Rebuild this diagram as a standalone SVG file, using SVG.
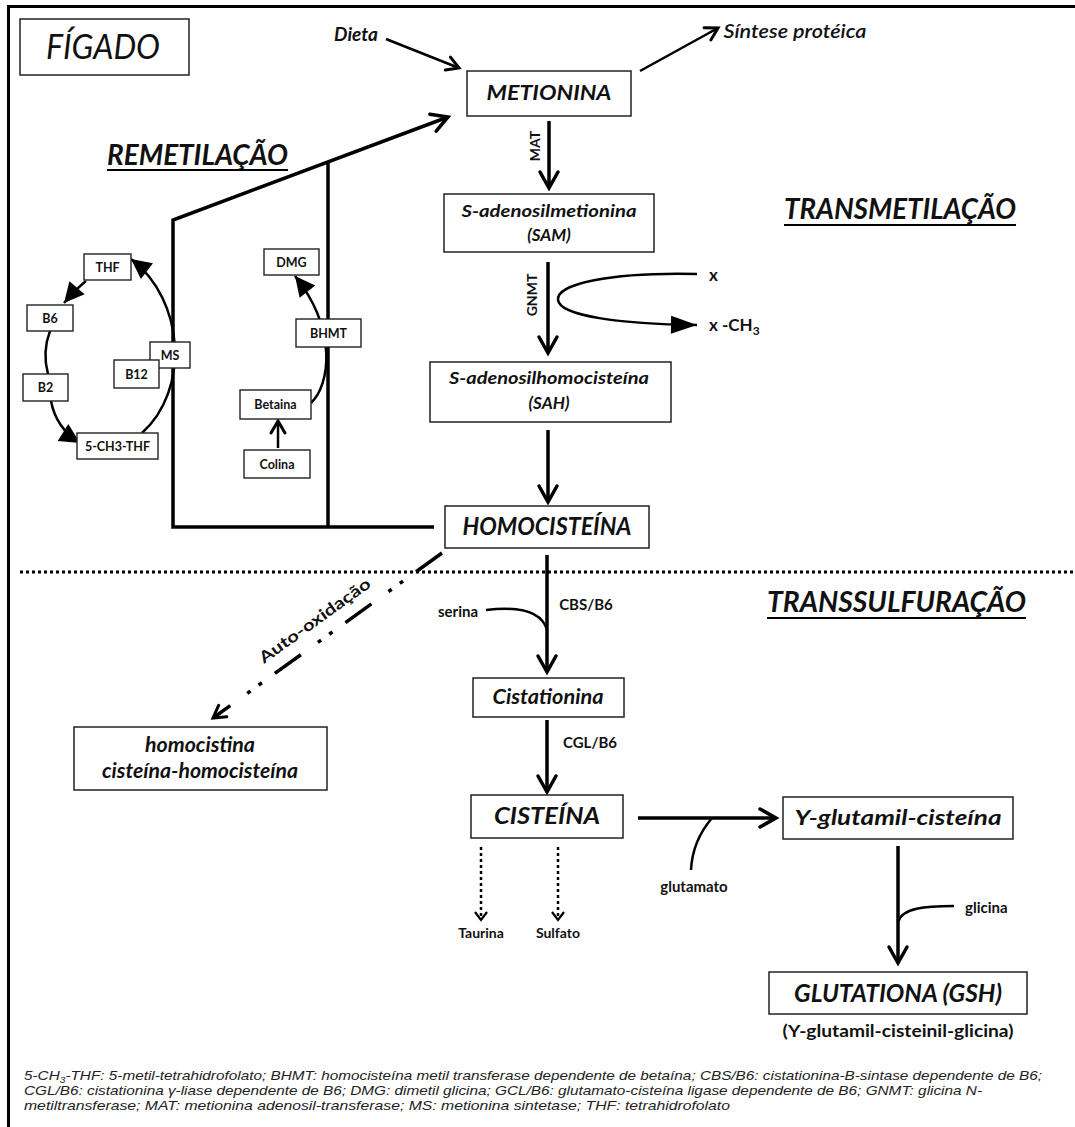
<svg xmlns="http://www.w3.org/2000/svg" width="1075" height="1127" viewBox="0 0 1075 1127">
<style>
text{font-family:Lato,"Liberation Sans",sans-serif;fill:#111}
.bi{font-weight:bold;font-style:italic}
.b{font-weight:bold}
.i{font-style:italic}
.c{text-anchor:middle}
.box{fill:#fff;stroke:#222;stroke-width:1.5}
.sbox{fill:#fff;stroke:#222;stroke-width:1.4}
.sl{font-size:12.5px;font-weight:bold;text-anchor:middle}
.ln{fill:none;stroke:#000;stroke-width:3.5}
.thin{fill:none;stroke:#000;stroke-width:2.5}
.dot{fill:none;stroke:#000;stroke-width:2.5;stroke-dasharray:3 3}
.foot{font-family:"Liberation Sans",Arial,sans-serif;font-style:italic;font-size:13.5px;fill:#222}
</style>
<defs>
<marker id="chev" markerUnits="userSpaceOnUse" viewBox="-20 -12 24 24" refX="0" refY="0" markerWidth="24" markerHeight="24" orient="auto" overflow="visible"><path d="M-16,-9 L0,0 L-16,9" fill="none" stroke="#000" stroke-width="3.5" stroke-linecap="round"/></marker>
<marker id="chevS" markerUnits="userSpaceOnUse" viewBox="-16 -10 20 20" refX="0" refY="0" markerWidth="20" markerHeight="20" orient="auto" overflow="visible"><path d="M-12,-7 L0,0 L-12,7" fill="none" stroke="#000" stroke-width="3" stroke-linecap="round"/></marker>
<marker id="chevD" markerUnits="userSpaceOnUse" viewBox="-12 -8 16 16" refX="0" refY="0" markerWidth="16" markerHeight="16" orient="auto" overflow="visible"><path d="M-8,-6 L0,0 L-8,6" fill="none" stroke="#000" stroke-width="2.2"/></marker>
<marker id="tri" markerUnits="userSpaceOnUse" viewBox="-28 -12 30 24" refX="0" refY="0" markerWidth="30" markerHeight="24" orient="auto" overflow="visible"><path d="M-26,-9 L0,0 L-26,9Z" fill="#000"/></marker>
<marker id="triS" markerUnits="userSpaceOnUse" viewBox="-22 -12 24 24" refX="0" refY="0" markerWidth="24" markerHeight="24" orient="auto" overflow="visible"><path d="M-20,-10 L0,0 L-20,10Z" fill="#000"/></marker>
</defs>
<rect width="1075" height="1127" fill="#fff"/>
<path d="M8.5,1127 V6.5 H1075" fill="none" stroke="#000" stroke-width="3"/>

<g id="connectors">
<path class="thin" d="M386,39 L459,68" marker-end="url(#chevS)"/>
<path class="thin" d="M640,71 L718,28" marker-end="url(#chevS)"/>
<path class="ln" d="M549,121 V188" marker-end="url(#chev)"/>
<path class="ln" d="M548,262 V353" marker-end="url(#chev)"/>
<path class="thin" d="M697,274 C610,272 556,284 558,300 C560,316 620,324 697,325" marker-end="url(#tri)"/>
<path class="ln" d="M548,430 V502" marker-end="url(#chev)"/>
<path class="ln" d="M434,527 H173 V220 L448,117" stroke-width="4" stroke-linejoin="miter" marker-end="url(#chev)"/>
<path class="ln" d="M328,527 V163" stroke-width="4"/>
<path d="M20,572 H1075" fill="none" stroke="#000" stroke-width="3" stroke-dasharray="3 3"/>
<path d="M442,553 L213,718" fill="none" stroke="#000" stroke-width="3.5" stroke-dasharray="32 16 4 10 4 21" marker-end="url(#chevS)"/>
<path class="ln" d="M547,555 V672" marker-end="url(#chev)"/>
<path class="thin" d="M486,610 C520,606 542,612 547,630"/>
<path class="ln" d="M547,720 V792" marker-end="url(#chev)"/>
<path class="ln" d="M638,818 H776" stroke-width="4" marker-end="url(#chev)"/>
<path class="thin" d="M712,818 C700,832 692,850 691,870"/>
<path class="ln" d="M898,846 V963" marker-end="url(#chev)"/>
<path class="thin" d="M898,922 C902,908 925,906 954,906"/>
<path class="dot" d="M481,847 V920" marker-end="url(#chevD)"/>
<path class="dot" d="M558,847 V920" marker-end="url(#chevD)"/>
<path class="thin" d="M142,433 C190,390 185,300 131,259" stroke-width="3" marker-end="url(#triS)"/>
<path class="thin" d="M86,281 Q76,289 64,303" stroke-width="3" marker-end="url(#triS)"/>
<path class="thin" d="M50,331 Q42,352 48,374" stroke-width="3"/>
<path class="thin" d="M51,401 Q56,428 80,443" stroke-width="3" marker-end="url(#triS)"/>
<path class="thin" d="M311,403 C330,385 338,330 295,276" stroke-width="3" marker-end="url(#triS)"/>
<path class="thin" d="M278,448 V421" stroke-width="3" marker-end="url(#chevS)"/>
</g>

<g id="labels">
<text x="356" y="41" class="bi c" font-size="19">Dieta</text>
<text x="795" y="38" class="i c" font-size="19" font-weight="600" textLength="143" lengthAdjust="spacingAndGlyphs">Síntese protéica</text>
<text x="107" y="165" class="bi" font-size="28" textLength="181" lengthAdjust="spacingAndGlyphs">REMETILAÇÃO</text>
<line x1="107" y1="170" x2="288" y2="170" stroke="#000" stroke-width="2"/>
<text x="784" y="219" class="bi" font-size="28" textLength="232" lengthAdjust="spacingAndGlyphs">TRANSMETILAÇÃO</text>
<line x1="784" y1="225" x2="1016" y2="225" stroke="#000" stroke-width="2"/>
<text x="767" y="612" class="bi" font-size="28" textLength="259" lengthAdjust="spacingAndGlyphs">TRANSSULFURAÇÃO</text>
<line x1="767" y1="618" x2="1026" y2="618" stroke="#000" stroke-width="2"/>
<text transform="translate(540,146) rotate(-90)" class="b c" font-size="14">MAT</text>
<text transform="translate(537,295) rotate(-90)" class="b c" font-size="14">GNMT</text>
<text x="709" y="281" class="b" font-size="17">x</text>
<text x="709" y="331" class="b" font-size="17">x -CH<tspan font-size="12" dy="4">3</tspan></text>
<text transform="translate(318,625) rotate(-35.8)" class="b c" font-size="16" textLength="133" lengthAdjust="spacingAndGlyphs">Auto-oxidação</text>
<text x="458" y="617" class="b c" font-size="15">serina</text>
<text x="586" y="610" class="b c" font-size="15">CBS/B6</text>
<text x="590" y="748" class="b c" font-size="15">CGL/B6</text>
<text x="694" y="892" class="b c" font-size="15">glutamato</text>
<text x="965" y="913" class="b" font-size="15">glicina</text>
<text x="481" y="938" class="b c" font-size="14">Taurina</text>
<text x="558" y="938" class="b c" font-size="14">Sulfato</text>
<text x="898" y="1037" class="b c" font-size="17" textLength="231" lengthAdjust="spacingAndGlyphs">(Y-glutamil-cisteinil-glicina)</text>
</g>

<g id="node-figado"><rect class="box" x="20" y="19" width="169" height="56"/><text x="103" y="59" class="i c" font-size="34" textLength="114" lengthAdjust="spacingAndGlyphs">FÍGADO</text></g>
<g id="node-metionina"><rect class="box" x="467" y="71" width="164" height="45"/><text x="549" y="100" class="bi c" font-size="21" textLength="125" lengthAdjust="spacingAndGlyphs">METIONINA</text></g>
<g id="node-sam"><rect class="box" x="444" y="194" width="210" height="58"/><text x="549" y="217" class="bi c" font-size="17" textLength="175" lengthAdjust="spacingAndGlyphs">S-adenosilmetionina</text><text x="549" y="241" class="bi c" font-size="17">(SAM)</text></g>
<g id="node-sah"><rect class="box" x="430" y="362" width="241" height="60"/><text x="549" y="384" class="bi c" font-size="17" textLength="200" lengthAdjust="spacingAndGlyphs">S-adenosilhomocisteína</text><text x="549" y="409" class="bi c" font-size="17">(SAH)</text></g>
<g id="node-homocisteina"><rect class="box" x="445" y="506" width="204" height="42"/><text x="547" y="535" class="bi c" font-size="24" textLength="169" lengthAdjust="spacingAndGlyphs">HOMOCISTEÍNA</text></g>
<g id="node-homocistina"><rect class="box" x="74" y="727" width="253" height="63"/><text x="200" y="752" class="bi c" font-size="20" textLength="110" lengthAdjust="spacingAndGlyphs">homocistina</text><text x="200" y="778" class="bi c" font-size="20" textLength="196" lengthAdjust="spacingAndGlyphs">cisteína-homocisteína</text></g>
<g id="node-cistationina"><rect class="box" x="473" y="678" width="151" height="39"/><text x="548" y="704" class="bi c" font-size="20" textLength="111" lengthAdjust="spacingAndGlyphs">Cistationina</text></g>
<g id="node-cisteina"><rect class="box" x="471" y="795" width="152" height="43"/><text x="547" y="824" class="bi c" font-size="22" textLength="106" lengthAdjust="spacingAndGlyphs">CISTEÍNA</text></g>
<g id="node-yglut"><rect class="box" x="783" y="797" width="230" height="42"/><text x="898" y="825" class="bi c" font-size="21" textLength="207" lengthAdjust="spacingAndGlyphs">Y-glutamil-cisteína</text></g>
<g id="node-gsh"><rect class="box" x="769" y="972" width="258" height="42"/><text x="898" y="1002" class="bi c" font-size="25" textLength="208" lengthAdjust="spacingAndGlyphs">GLUTATIONA (GSH)</text></g>

<g id="node-thf"><rect class="sbox" x="84" y="254" width="47" height="26"/><text x="107.5" y="271.5" class="sl">THF</text></g>
<g id="node-b6"><rect class="sbox" x="27" y="305" width="46" height="26"/><text x="50" y="322.5" class="sl">B6</text></g>
<g id="node-b2"><rect class="sbox" x="23" y="374" width="45" height="27"/><text x="45.5" y="392" class="sl">B2</text></g>
<g id="node-5ch3thf"><rect class="sbox" x="77" y="433" width="81" height="26"/><text x="117.5" y="450.5" class="sl">5-CH3-THF</text></g>
<g id="node-ms"><rect class="sbox" x="150" y="342" width="40" height="26"/><text x="170" y="359.5" class="sl">MS</text></g>
<g id="node-b12"><rect class="sbox" x="114" y="360" width="45" height="28"/><text x="136.5" y="378.5" class="sl">B12</text></g>
<g id="node-dmg"><rect class="sbox" x="264" y="249" width="55" height="26"/><text x="291.5" y="266.5" class="sl">DMG</text></g>
<g id="node-bhmt"><rect class="sbox" x="296" y="319" width="65" height="28"/><text x="328.5" y="337.5" class="sl">BHMT</text></g>
<g id="node-betaina"><rect class="sbox" x="240" y="390" width="71" height="29"/><text x="275.5" y="409" class="sl">Betaina</text></g>
<g id="node-colina"><rect class="sbox" x="244" y="450" width="66" height="28"/><text x="277" y="468.5" class="sl">Colina</text></g>

<g id="footer">
<text x="24" y="1080" class="foot" textLength="1018" lengthAdjust="spacingAndGlyphs">5-CH<tspan font-size="9" baseline-shift="-3">3</tspan>-THF: 5-metil-tetrahidrofolato; BHMT: homocisteína metil transferase dependente de betaína; CBS/B6: cistationina-B-sintase  dependente de B6;</text>
<text x="24" y="1095" class="foot" textLength="958" lengthAdjust="spacingAndGlyphs">CGL/B6: cistationina γ-liase dependente  de B6; DMG: dimetil glicina; GCL/B6: glutamato-cisteína  ligase dependente  de B6; GNMT: glicina N-</text>
<text x="24" y="1110" class="foot" textLength="706" lengthAdjust="spacingAndGlyphs">metiltransferase; MAT: metionina adenosil-transferase; MS: metionina sintetase; THF: tetrahidrofolato</text>
</g>
</svg>
